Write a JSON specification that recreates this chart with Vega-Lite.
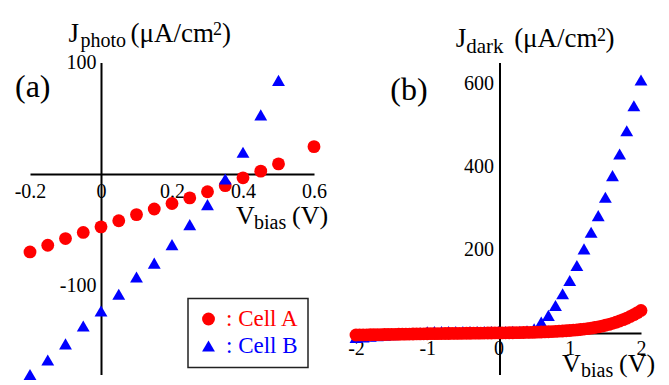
{
  "$schema": "https://vega.github.io/schema/vega-lite/v6.json",
  "padding": {"left": 14, "top": 19.5, "right": 14, "bottom": 4},
  "background": "white",
  "spacing": 42,
  "bounds": "flush",
  "config": {
    "view": {"stroke": null},
    "font": "Liberation Serif, Times New Roman, Times, serif",
    "axis": {"grid": false, "domainColor": "black", "domainWidth": 2, "tickColor": "black", "tickWidth": 2, "tickSize": 0, "labelFont": "Liberation Serif, Times New Roman, Times, serif", "labelFontSize": 20, "labelColor": "black", "labelFlush": false, "labelOverlap": false, "title": null},
    "text": {"font": "Liberation Serif, Times New Roman, Times, serif", "color": "black", "align": "left", "baseline": "alphabetic"},
    "legend": {"orient": "none", "legendX": 158, "legendY": 236, "padding": 9, "strokeColor": "#222222", "symbolSize": 165, "symbolStrokeWidth": 0, "symbolOpacity": 1, "labelFont": "Liberation Serif, Times New Roman, Times, serif", "labelFontSize": 23, "labelOffset": 6, "rowPadding": 3, "titleFontSize": 0}
  },
  "datasets": {
    "photo": [
      {"v": -0.2, "j": -70, "cell": "Cell A"}, {"v": -0.15, "j": -64, "cell": "Cell A"}, {"v": -0.1, "j": -58, "cell": "Cell A"}, {"v": -0.05, "j": -52.5, "cell": "Cell A"},
      {"v": 0, "j": -47.5, "cell": "Cell A"}, {"v": 0.05, "j": -42, "cell": "Cell A"}, {"v": 0.1, "j": -36.5, "cell": "Cell A"}, {"v": 0.15, "j": -31.5, "cell": "Cell A"},
      {"v": 0.2, "j": -26.5, "cell": "Cell A"}, {"v": 0.25, "j": -21.5, "cell": "Cell A"}, {"v": 0.3, "j": -16, "cell": "Cell A"}, {"v": 0.35, "j": -10.5, "cell": "Cell A"},
      {"v": 0.4, "j": -3.5, "cell": "Cell A"}, {"v": 0.45, "j": 2.5, "cell": "Cell A"}, {"v": 0.5, "j": 9, "cell": "Cell A"}, {"v": 0.6, "j": 24.5, "cell": "Cell A"},
      {"v": -0.2, "j": -180, "cell": "Cell B"}, {"v": -0.15, "j": -167, "cell": "Cell B"}, {"v": -0.1, "j": -152.5, "cell": "Cell B"}, {"v": -0.05, "j": -136.5, "cell": "Cell B"},
      {"v": 0, "j": -123, "cell": "Cell B"}, {"v": 0.05, "j": -108, "cell": "Cell B"}, {"v": 0.1, "j": -92.5, "cell": "Cell B"}, {"v": 0.15, "j": -80, "cell": "Cell B"},
      {"v": 0.2, "j": -63.5, "cell": "Cell B"}, {"v": 0.25, "j": -45.5, "cell": "Cell B"}, {"v": 0.3, "j": -27.5, "cell": "Cell B"}, {"v": 0.35, "j": -4.5, "cell": "Cell B"},
      {"v": 0.4, "j": 19.5, "cell": "Cell B"}, {"v": 0.45, "j": 53, "cell": "Cell B"}, {"v": 0.5, "j": 84, "cell": "Cell B"}
    ],
    "dark": [
      {"v": -2.0, "j": -11, "cell": "Cell B"}, {"v": -1.9, "j": -9.5, "cell": "Cell B"}, {"v": -1.8, "j": -8, "cell": "Cell B"}, {"v": -1.7, "j": -6.5, "cell": "Cell B"},
      {"v": -1.6, "j": -5.2, "cell": "Cell B"}, {"v": -1.5, "j": -4, "cell": "Cell B"}, {"v": -1.4, "j": -3, "cell": "Cell B"}, {"v": -1.3, "j": -2, "cell": "Cell B"},
      {"v": -1.2, "j": -1, "cell": "Cell B"}, {"v": -1.1, "j": 0.5, "cell": "Cell B"}, {"v": -1.0, "j": 2.5, "cell": "Cell B"}, {"v": -0.9, "j": 3.5, "cell": "Cell B"},
      {"v": -0.8, "j": 3.5, "cell": "Cell B"}, {"v": -0.7, "j": 3.5, "cell": "Cell B"}, {"v": -0.6, "j": 3.5, "cell": "Cell B"}, {"v": -0.5, "j": 3.5, "cell": "Cell B"},
      {"v": -0.4, "j": 3.5, "cell": "Cell B"}, {"v": -0.3, "j": 3.5, "cell": "Cell B"}, {"v": -0.2, "j": 3.5, "cell": "Cell B"}, {"v": -0.1, "j": 3.5, "cell": "Cell B"},
      {"v": 0.0, "j": 3.5, "cell": "Cell B"}, {"v": 0.1, "j": 3.5, "cell": "Cell B"}, {"v": 0.2, "j": 3.6, "cell": "Cell B"}, {"v": 0.3, "j": 3.8, "cell": "Cell B"},
      {"v": 0.4, "j": 5, "cell": "Cell B"}, {"v": 0.5, "j": 10, "cell": "Cell B"}, {"v": 0.6, "j": 26, "cell": "Cell B"}, {"v": 0.7, "j": 42, "cell": "Cell B"},
      {"v": 0.8, "j": 66, "cell": "Cell B"}, {"v": 0.9, "j": 94, "cell": "Cell B"}, {"v": 1.0, "j": 126, "cell": "Cell B"}, {"v": 1.1, "j": 162, "cell": "Cell B"},
      {"v": 1.2, "j": 202, "cell": "Cell B"}, {"v": 1.3, "j": 242, "cell": "Cell B"}, {"v": 1.4, "j": 282, "cell": "Cell B"}, {"v": 1.5, "j": 326, "cell": "Cell B"},
      {"v": 1.6, "j": 378, "cell": "Cell B"}, {"v": 1.7, "j": 430, "cell": "Cell B"}, {"v": 1.8, "j": 486, "cell": "Cell B"}, {"v": 1.9, "j": 546, "cell": "Cell B"},
      {"v": 2.0, "j": 608, "cell": "Cell B"},
      {"v": -2.0, "j": -5.0, "cell": "Cell A"}, {"v": -1.95, "j": -4.9, "cell": "Cell A"}, {"v": -1.9, "j": -4.7, "cell": "Cell A"}, {"v": -1.85, "j": -4.6, "cell": "Cell A"},
      {"v": -1.8, "j": -4.4, "cell": "Cell A"}, {"v": -1.75, "j": -4.3, "cell": "Cell A"}, {"v": -1.7, "j": -4.1, "cell": "Cell A"}, {"v": -1.65, "j": -4.0, "cell": "Cell A"},
      {"v": -1.6, "j": -3.8, "cell": "Cell A"}, {"v": -1.55, "j": -3.7, "cell": "Cell A"}, {"v": -1.5, "j": -3.5, "cell": "Cell A"}, {"v": -1.45, "j": -3.4, "cell": "Cell A"},
      {"v": -1.4, "j": -3.2, "cell": "Cell A"}, {"v": -1.35, "j": -3.1, "cell": "Cell A"}, {"v": -1.3, "j": -2.9, "cell": "Cell A"}, {"v": -1.25, "j": -2.8, "cell": "Cell A"},
      {"v": -1.2, "j": -2.6, "cell": "Cell A"}, {"v": -1.15, "j": -2.5, "cell": "Cell A"}, {"v": -1.1, "j": -2.3, "cell": "Cell A"}, {"v": -1.05, "j": -2.2, "cell": "Cell A"},
      {"v": -1.0, "j": -2.0, "cell": "Cell A"}, {"v": -0.95, "j": -1.9, "cell": "Cell A"}, {"v": -0.9, "j": -1.8, "cell": "Cell A"}, {"v": -0.85, "j": -1.7, "cell": "Cell A"},
      {"v": -0.8, "j": -1.6, "cell": "Cell A"}, {"v": -0.75, "j": -1.5, "cell": "Cell A"}, {"v": -0.7, "j": -1.4, "cell": "Cell A"}, {"v": -0.65, "j": -1.3, "cell": "Cell A"},
      {"v": -0.6, "j": -1.2, "cell": "Cell A"}, {"v": -0.55, "j": -1.1, "cell": "Cell A"}, {"v": -0.5, "j": -1.0, "cell": "Cell A"}, {"v": -0.45, "j": -0.9, "cell": "Cell A"},
      {"v": -0.4, "j": -0.8, "cell": "Cell A"}, {"v": -0.35, "j": -0.7, "cell": "Cell A"}, {"v": -0.3, "j": -0.6, "cell": "Cell A"}, {"v": -0.25, "j": -0.5, "cell": "Cell A"},
      {"v": -0.2, "j": -0.4, "cell": "Cell A"}, {"v": -0.15, "j": -0.3, "cell": "Cell A"}, {"v": -0.1, "j": -0.2, "cell": "Cell A"}, {"v": -0.05, "j": -0.1, "cell": "Cell A"},
      {"v": 0.0, "j": 0.0, "cell": "Cell A"}, {"v": 0.05, "j": 0.1, "cell": "Cell A"}, {"v": 0.1, "j": 0.2, "cell": "Cell A"}, {"v": 0.15, "j": 0.3, "cell": "Cell A"},
      {"v": 0.2, "j": 0.4, "cell": "Cell A"}, {"v": 0.25, "j": 0.5, "cell": "Cell A"}, {"v": 0.3, "j": 0.7, "cell": "Cell A"}, {"v": 0.35, "j": 0.9, "cell": "Cell A"},
      {"v": 0.4, "j": 1.1, "cell": "Cell A"}, {"v": 0.45, "j": 1.3, "cell": "Cell A"}, {"v": 0.5, "j": 1.5, "cell": "Cell A"}, {"v": 0.55, "j": 1.8, "cell": "Cell A"},
      {"v": 0.6, "j": 2.1, "cell": "Cell A"}, {"v": 0.65, "j": 2.4, "cell": "Cell A"}, {"v": 0.7, "j": 2.8, "cell": "Cell A"}, {"v": 0.75, "j": 3.2, "cell": "Cell A"},
      {"v": 0.8, "j": 3.6, "cell": "Cell A"}, {"v": 0.85, "j": 4.1, "cell": "Cell A"}, {"v": 0.9, "j": 4.6, "cell": "Cell A"}, {"v": 0.95, "j": 5.2, "cell": "Cell A"},
      {"v": 1.0, "j": 5.8, "cell": "Cell A"}, {"v": 1.05, "j": 6.5, "cell": "Cell A"}, {"v": 1.1, "j": 7.3, "cell": "Cell A"}, {"v": 1.15, "j": 8.2, "cell": "Cell A"},
      {"v": 1.2, "j": 9.2, "cell": "Cell A"}, {"v": 1.25, "j": 10.3, "cell": "Cell A"}, {"v": 1.3, "j": 11.5, "cell": "Cell A"}, {"v": 1.35, "j": 12.9, "cell": "Cell A"},
      {"v": 1.4, "j": 14.5, "cell": "Cell A"}, {"v": 1.45, "j": 16.3, "cell": "Cell A"}, {"v": 1.5, "j": 18.3, "cell": "Cell A"}, {"v": 1.55, "j": 20.5, "cell": "Cell A"},
      {"v": 1.6, "j": 23.0, "cell": "Cell A"}, {"v": 1.65, "j": 25.7, "cell": "Cell A"}, {"v": 1.7, "j": 28.7, "cell": "Cell A"}, {"v": 1.75, "j": 32.0, "cell": "Cell A"},
      {"v": 1.8, "j": 35.6, "cell": "Cell A"}, {"v": 1.85, "j": 39.6, "cell": "Cell A"}, {"v": 1.9, "j": 44.0, "cell": "Cell A"}, {"v": 1.95, "j": 48.8, "cell": "Cell A"},
      {"v": 2.0, "j": 54.0, "cell": "Cell A"}
    ]
  },
  "hconcat": [
    {
      "width": 284,
      "height": 312,
      "layer": [
        {
          "data": {"name": "photo"},
          "mark": {"type": "point", "filled": true, "opacity": 1, "size": 165, "strokeWidth": 0},
          "encoding": {
            "x": {"field": "v", "type": "quantitative", "scale": {"domain": [-0.2, 0.6], "nice": false, "zero": false},
              "axis": {"orient": "bottom", "offset": -200.6, "values": [-0.2, -0.1, 0, 0.1, 0.2, 0.3, 0.4, 0.5, 0.6], "labelPadding": 8,
                "labelExpr": "abs(round(datum.value*10)) % 2 == 0 ? '' + datum.value : ''",
                "encode": {"ticks": {"update": {"y2": {"signal": "abs(round(datum.value*10)) % 2 == 0 ? -11 : -6"}}},
                           "labels": {"update": {"align": {"signal": "datum.value == 0 ? 'right' : 'center'"}, "dx": {"signal": "datum.value == 0 ? -1 : 0"}}}}}},
            "y": {"field": "j", "type": "quantitative", "scale": {"domain": [-180, 100], "nice": false, "zero": false},
              "axis": {"orient": "left", "offset": -71, "values": [-150, -100, -50, 50, 100], "labelPadding": 5,
                "labelExpr": "abs(datum.value) == 100 ? '' + datum.value : ''",
                "encode": {"ticks": {"update": {"x2": {"signal": "abs(datum.value) == 100 ? 12 : 6"}}}}}},
            "color": {"field": "cell", "type": "nominal", "scale": {"domain": ["Cell A", "Cell B"], "range": ["#ff0000", "#0000ff"]},
              "legend": {"title": null, "labelExpr": "': ' + datum.label",
                "encode": {"labels": {"update": {"fill": {"signal": "datum.value == 'Cell A' ? '#ff0000' : '#0000ff'"}}}, "legend": {"update": {"strokeWidth": {"value": 1.5}}}}}},
            "shape": {"field": "cell", "type": "nominal", "scale": {"domain": ["Cell A", "Cell B"], "range": ["circle", "triangle-up"]},
              "legend": {"title": null, "labelExpr": "': ' + datum.label",
                "encode": {"labels": {"update": {"fill": {"signal": "datum.value == 'Cell A' ? '#ff0000' : '#0000ff'"}}}, "legend": {"update": {"strokeWidth": {"value": 1.5}}}}}}
          }
        },
        {"data": {"values": [{}]}, "mark": {"type": "text", "text": "(a)", "fontSize": 32}, "encoding": {"x": {"datum": -0.2423, "type": "quantitative"}, "y": {"datum": 68.6, "type": "quantitative"}}},
        {"data": {"values": [{}]}, "mark": {"type": "text", "text": "J", "fontSize": 27}, "encoding": {"x": {"datum": -0.0916, "type": "quantitative"}, "y": {"datum": 118.4, "type": "quantitative"}}},
        {"data": {"values": [{}]}, "mark": {"type": "text", "text": "photo", "fontSize": 20}, "encoding": {"x": {"datum": -0.0578, "type": "quantitative"}, "y": {"datum": 113.9, "type": "quantitative"}}},
        {"data": {"values": [{}]}, "mark": {"type": "text", "text": "(μA/cm", "fontSize": 27}, "encoding": {"x": {"datum": 0.0831, "type": "quantitative"}, "y": {"datum": 118.4, "type": "quantitative"}}},
        {"data": {"values": [{}]}, "mark": {"type": "text", "text": "2", "fontSize": 18}, "encoding": {"x": {"datum": 0.3155, "type": "quantitative"}, "y": {"datum": 124.6, "type": "quantitative"}}},
        {"data": {"values": [{}]}, "mark": {"type": "text", "text": ")", "fontSize": 27}, "encoding": {"x": {"datum": 0.3408, "type": "quantitative"}, "y": {"datum": 118.4, "type": "quantitative"}}},
        {"data": {"values": [{}]}, "mark": {"type": "text", "text": "V", "fontSize": 26}, "encoding": {"x": {"datum": 0.3803, "type": "quantitative"}, "y": {"datum": -44.9, "type": "quantitative"}}},
        {"data": {"values": [{}]}, "mark": {"type": "text", "text": "bias", "fontSize": 20}, "encoding": {"x": {"datum": 0.431, "type": "quantitative"}, "y": {"datum": -49.4, "type": "quantitative"}}},
        {"data": {"values": [{}]}, "mark": {"type": "text", "text": "(V)", "fontSize": 26}, "encoding": {"x": {"datum": 0.538, "type": "quantitative"}, "y": {"datum": -44.9, "type": "quantitative"}}}
      ]
    },
    {
      "width": 285,
      "height": 312,
      "layer": [
        {
          "data": {"name": "dark"},
          "mark": {"type": "point", "filled": true, "opacity": 1, "size": 165, "strokeWidth": 0},
          "encoding": {
            "x": {"field": "v", "type": "quantitative", "scale": {"domain": [-2, 2], "nice": false, "zero": false},
              "axis": {"orient": "bottom", "offset": -41.6, "values": [-2, -1, 0, 1, 2], "labelPadding": 5.5,
                "labelExpr": "'' + datum.value",
                "encode": {"ticks": {"update": {"y2": {"value": -10}}},
                           "labels": {"update": {"align": {"signal": "datum.value == 0 ? 'right' : 'center'"}, "dx": {"signal": "datum.value == 0 ? -2 : 0"}}}}}},
            "y": {"field": "j", "type": "quantitative", "scale": {"domain": [-100, 650], "nice": false, "zero": false},
              "axis": {"orient": "left", "offset": -143.5, "values": [-100, 100, 200, 300, 400, 500, 600], "labelPadding": 6,
                "labelExpr": "datum.value % 200 == 0 && datum.value > 0 ? '' + datum.value : ''",
                "encode": {"ticks": {"update": {"x2": {"signal": "datum.value % 200 == 0 ? 11 : 6"}}}}}},
            "color": {"field": "cell", "type": "nominal", "scale": {"domain": ["Cell A", "Cell B"], "range": ["#ff0000", "#0000ff"]},
              "legend": {"title": null, "labelExpr": "': ' + datum.label",
                "encode": {"labels": {"update": {"fill": {"signal": "datum.value == 'Cell A' ? '#ff0000' : '#0000ff'"}}}, "legend": {"update": {"strokeWidth": {"value": 1.5}}}}}},
            "shape": {"field": "cell", "type": "nominal", "scale": {"domain": ["Cell A", "Cell B"], "range": ["circle", "triangle-up"]},
              "legend": {"title": null, "labelExpr": "': ' + datum.label",
                "encode": {"labels": {"update": {"fill": {"signal": "datum.value == 'Cell A' ? '#ff0000' : '#0000ff'"}}}, "legend": {"update": {"strokeWidth": {"value": 1.5}}}}}}
          }
        },
        {"data": {"values": [{}]}, "mark": {"type": "text", "text": "(b)", "fontSize": 32}, "encoding": {"x": {"datum": -1.519, "type": "quantitative"}, "y": {"datum": 559.9, "type": "quantitative"}}},
        {"data": {"values": [{}]}, "mark": {"type": "text", "text": "J", "fontSize": 27}, "encoding": {"x": {"datum": -0.601, "type": "quantitative"}, "y": {"datum": 686.1, "type": "quantitative"}}},
        {"data": {"values": [{}]}, "mark": {"type": "text", "text": "dark", "fontSize": 21}, "encoding": {"x": {"datum": -0.454, "type": "quantitative"}, "y": {"datum": 674.0, "type": "quantitative"}}},
        {"data": {"values": [{}]}, "mark": {"type": "text", "text": "(μA/cm", "fontSize": 27}, "encoding": {"x": {"datum": 0.2193, "type": "quantitative"}, "y": {"datum": 686.1, "type": "quantitative"}}},
        {"data": {"values": [{}]}, "mark": {"type": "text", "text": "2", "fontSize": 18}, "encoding": {"x": {"datum": 1.383, "type": "quantitative"}, "y": {"datum": 700.5, "type": "quantitative"}}},
        {"data": {"values": [{}]}, "mark": {"type": "text", "text": ")", "fontSize": 27}, "encoding": {"x": {"datum": 1.502, "type": "quantitative"}, "y": {"datum": 686.1, "type": "quantitative"}}},
        {"data": {"values": [{}]}, "mark": {"type": "text", "text": "V", "fontSize": 26}, "encoding": {"x": {"datum": 0.892, "type": "quantitative"}, "y": {"datum": -93.8, "type": "quantitative"}}},
        {"data": {"values": [{}]}, "mark": {"type": "text", "text": "bias", "fontSize": 20}, "encoding": {"x": {"datum": 1.1587, "type": "quantitative"}, "y": {"datum": -107.2, "type": "quantitative"}}},
        {"data": {"values": [{}]}, "mark": {"type": "text", "text": "(V)", "fontSize": 26}, "encoding": {"x": {"datum": 1.691, "type": "quantitative"}, "y": {"datum": -93.8, "type": "quantitative"}}}
      ]
    }
  ]
}
